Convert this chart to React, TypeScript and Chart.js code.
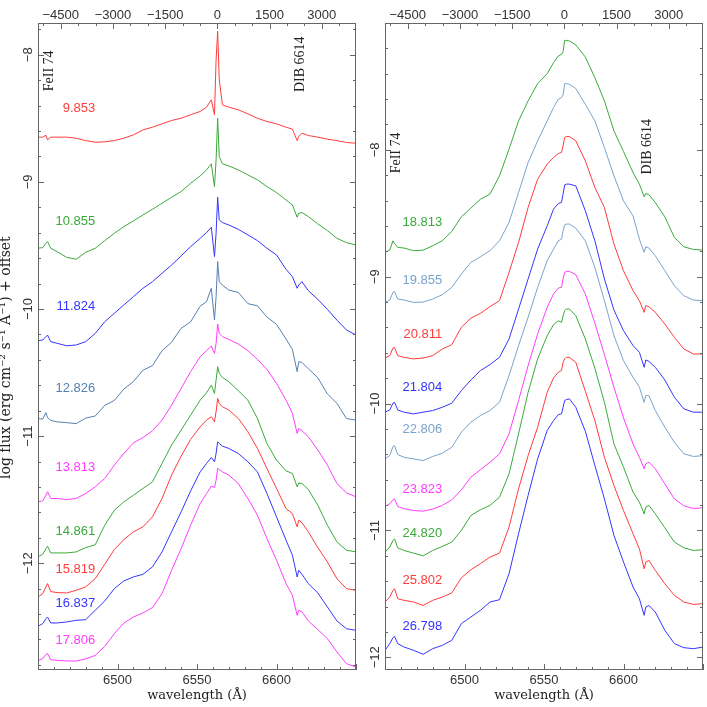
import React, { useEffect, useRef } from 'react';
import { Chart, registerables } from 'chart.js';

Chart.register(...registerables);

// ---------- data ----------
const WAVE = [6450, 6453, 6455, 6456, 6458, 6462, 6468, 6474, 6480, 6486, 6492, 6498, 6504, 6510, 6516, 6522, 6528, 6534, 6540, 6546, 6552, 6556, 6559, 6561, 6562, 6563, 6564, 6566, 6570, 6576, 6582, 6588, 6594, 6600, 6606, 6610, 6613, 6614, 6616, 6620, 6626, 6632, 6638, 6644, 6650];

// left panel
const F_9853 = [-8.648, -8.648, -8.633, -8.669, -8.648, -8.648, -8.648, -8.656, -8.675, -8.688, -8.685, -8.675, -8.656, -8.630, -8.591, -8.570, -8.543, -8.517, -8.499, -8.472, -8.446, -8.412, -8.354, -8.472, -8.039, -7.816, -8.197, -8.394, -8.412, -8.433, -8.465, -8.499, -8.525, -8.543, -8.570, -8.585, -8.675, -8.643, -8.617, -8.635, -8.648, -8.664, -8.675, -8.690, -8.696];
const F_10855 = [-9.522, -9.517, -9.483, -9.470, -9.522, -9.549, -9.593, -9.609, -9.554, -9.522, -9.462, -9.404, -9.352, -9.307, -9.260, -9.215, -9.168, -9.121, -9.076, -9.011, -8.953, -8.906, -8.858, -9.037, -8.827, -8.499, -8.801, -8.858, -8.874, -8.906, -8.945, -8.984, -9.037, -9.084, -9.142, -9.181, -9.278, -9.247, -9.241, -9.273, -9.331, -9.383, -9.444, -9.478, -9.496];
const F_11824 = [-10.249, -10.244, -10.218, -10.205, -10.257, -10.270, -10.289, -10.283, -10.257, -10.192, -10.100, -10.034, -9.968, -9.903, -9.837, -9.785, -9.719, -9.654, -9.583, -9.509, -9.444, -9.399, -9.357, -9.588, -9.404, -9.121, -9.299, -9.320, -9.339, -9.373, -9.417, -9.462, -9.522, -9.575, -9.688, -9.745, -9.837, -9.811, -9.785, -9.856, -9.924, -10.003, -10.087, -10.165, -10.205];
const F_12826 = [-10.862, -10.866, -10.815, -10.855, -10.876, -10.888, -10.894, -10.902, -10.858, -10.842, -10.758, -10.719, -10.630, -10.571, -10.482, -10.445, -10.328, -10.262, -10.152, -10.101, -9.978, -9.942, -9.837, -10.087, -9.903, -9.627, -9.785, -9.812, -9.851, -9.870, -9.958, -9.975, -10.063, -10.121, -10.236, -10.318, -10.493, -10.415, -10.420, -10.470, -10.541, -10.668, -10.742, -10.862, -10.874];
const F_13813 = [-11.517, -11.509, -11.465, -11.438, -11.491, -11.491, -11.499, -11.491, -11.451, -11.399, -11.333, -11.228, -11.137, -11.053, -11.011, -10.958, -10.874, -10.756, -10.625, -10.493, -10.375, -10.328, -10.291, -10.349, -10.270, -10.118, -10.192, -10.218, -10.239, -10.276, -10.328, -10.396, -10.475, -10.585, -10.717, -10.822, -10.979, -10.940, -10.958, -11.005, -11.110, -11.228, -11.373, -11.446, -11.478];
const F_14861 = [-11.950, -11.929, -11.885, -11.866, -11.919, -11.919, -11.919, -11.911, -11.877, -11.855, -11.701, -11.583, -11.517, -11.465, -11.412, -11.360, -11.215, -11.071, -10.953, -10.835, -10.717, -10.659, -10.599, -10.664, -10.559, -10.454, -10.507, -10.538, -10.572, -10.643, -10.717, -10.861, -11.058, -11.189, -11.273, -11.294, -11.399, -11.368, -11.373, -11.420, -11.543, -11.701, -11.832, -11.898, -11.911];
const F_15819 = [-12.265, -12.239, -12.186, -12.160, -12.223, -12.231, -12.234, -12.213, -12.186, -12.121, -12.008, -11.892, -11.814, -11.753, -11.714, -11.635, -11.491, -11.307, -11.158, -11.026, -10.927, -10.874, -10.848, -10.887, -10.808, -10.703, -10.743, -10.769, -10.795, -10.861, -10.966, -11.097, -11.255, -11.412, -11.570, -11.609, -11.714, -11.661, -11.682, -11.753, -11.877, -11.990, -12.121, -12.200, -12.213];
const F_16837 = [-12.496, -12.475, -12.436, -12.423, -12.470, -12.470, -12.462, -12.449, -12.444, -12.370, -12.297, -12.200, -12.139, -12.108, -12.087, -12.029, -11.911, -11.753, -11.596, -11.431, -11.281, -11.215, -11.168, -11.202, -11.137, -11.045, -11.058, -11.079, -11.097, -11.137, -11.202, -11.281, -11.452, -11.635, -11.819, -11.937, -12.108, -12.055, -12.087, -12.160, -12.234, -12.344, -12.454, -12.515, -12.528];
const F_17806 = [-12.764, -12.751, -12.717, -12.711, -12.759, -12.764, -12.769, -12.769, -12.753, -12.725, -12.654, -12.554, -12.470, -12.423, -12.391, -12.349, -12.239, -12.055, -11.885, -11.701, -11.530, -11.452, -11.394, -11.404, -11.347, -11.255, -11.262, -11.281, -11.307, -11.373, -11.491, -11.622, -11.806, -11.976, -12.160, -12.252, -12.410, -12.370, -12.383, -12.454, -12.522, -12.593, -12.698, -12.790, -12.816];

// right panel
const F_18813 = [-8.808, -8.790, -8.717, -8.738, -8.769, -8.774, -8.795, -8.790, -8.756, -8.717, -8.643, -8.528, -8.459, -8.389, -8.349, -8.205, -7.995, -7.772, -7.614, -7.478, -7.399, -7.312, -7.260, -7.247, -7.226, -7.137, -7.137, -7.142, -7.173, -7.268, -7.431, -7.614, -7.850, -8.013, -8.179, -8.270, -8.370, -8.344, -8.354, -8.415, -8.528, -8.690, -8.764, -8.785, -8.790];
const F_19855 = [-9.202, -9.184, -9.123, -9.116, -9.176, -9.184, -9.202, -9.200, -9.176, -9.142, -9.084, -8.979, -8.887, -8.843, -8.795, -8.717, -8.572, -8.336, -8.100, -7.929, -7.772, -7.667, -7.601, -7.588, -7.567, -7.478, -7.478, -7.483, -7.517, -7.641, -7.772, -7.982, -8.205, -8.402, -8.520, -8.704, -8.808, -8.764, -8.774, -8.835, -8.953, -9.071, -9.150, -9.184, -9.189];
const F_20811 = [-9.641, -9.622, -9.562, -9.557, -9.622, -9.635, -9.648, -9.641, -9.622, -9.570, -9.536, -9.399, -9.326, -9.289, -9.236, -9.189, -8.966, -8.730, -8.454, -8.231, -8.113, -8.060, -8.029, -8.021, -7.969, -7.903, -7.895, -7.895, -7.929, -8.087, -8.297, -8.454, -8.743, -8.953, -9.110, -9.189, -9.281, -9.228, -9.236, -9.281, -9.373, -9.478, -9.570, -9.609, -9.609];
const F_21804 = [-10.068, -10.050, -9.997, -9.990, -10.050, -10.068, -10.081, -10.068, -10.055, -10.029, -9.997, -9.898, -9.814, -9.740, -9.693, -9.635, -9.491, -9.255, -9.018, -8.782, -8.599, -8.467, -8.423, -8.415, -8.349, -8.276, -8.270, -8.270, -8.284, -8.480, -8.717, -9.018, -9.263, -9.425, -9.543, -9.596, -9.714, -9.656, -9.667, -9.714, -9.814, -9.950, -10.042, -10.068, -10.068];
const F_22806 = [-10.436, -10.410, -10.339, -10.331, -10.402, -10.423, -10.436, -10.449, -10.417, -10.391, -10.344, -10.226, -10.147, -10.095, -10.055, -9.990, -9.780, -9.543, -9.320, -9.084, -8.874, -8.782, -8.717, -8.704, -8.638, -8.591, -8.585, -8.585, -8.617, -8.717, -8.927, -9.189, -9.465, -9.662, -9.793, -9.871, -9.990, -9.937, -9.937, -10.055, -10.186, -10.305, -10.396, -10.417, -10.410];
const F_23823 = [-10.811, -10.790, -10.759, -10.751, -10.811, -10.829, -10.843, -10.848, -10.832, -10.803, -10.759, -10.680, -10.580, -10.522, -10.462, -10.396, -10.239, -9.976, -9.701, -9.451, -9.241, -9.136, -9.089, -9.084, -9.018, -8.966, -8.958, -8.958, -8.984, -9.136, -9.367, -9.614, -9.871, -10.113, -10.318, -10.423, -10.514, -10.475, -10.462, -10.514, -10.633, -10.751, -10.806, -10.827, -10.821];
const F_24820 = [-11.171, -11.131, -11.079, -11.066, -11.137, -11.158, -11.179, -11.200, -11.158, -11.126, -11.092, -11.000, -10.882, -10.837, -10.803, -10.738, -10.554, -10.239, -9.911, -9.648, -9.465, -9.378, -9.347, -9.360, -9.307, -9.268, -9.255, -9.255, -9.307, -9.491, -9.722, -9.990, -10.318, -10.501, -10.698, -10.777, -10.869, -10.816, -10.803, -10.869, -10.979, -11.092, -11.137, -11.158, -11.152];
const F_25802 = [-11.564, -11.525, -11.472, -11.459, -11.538, -11.551, -11.564, -11.591, -11.551, -11.525, -11.493, -11.373, -11.310, -11.262, -11.210, -11.179, -10.974, -10.672, -10.410, -10.186, -9.911, -9.798, -9.753, -9.740, -9.675, -9.648, -9.635, -9.635, -9.675, -9.903, -10.134, -10.423, -10.646, -10.843, -11.026, -11.144, -11.302, -11.249, -11.236, -11.315, -11.420, -11.512, -11.564, -11.583, -11.577];
const F_26798 = [-11.945, -11.892, -11.845, -11.835, -11.892, -11.919, -11.945, -11.976, -11.932, -11.906, -11.866, -11.735, -11.682, -11.630, -11.564, -11.546, -11.341, -11.026, -10.724, -10.436, -10.213, -10.134, -10.087, -10.081, -10.029, -9.976, -9.969, -9.963, -10.029, -10.218, -10.488, -10.751, -11.039, -11.249, -11.446, -11.538, -11.669, -11.604, -11.591, -11.643, -11.787, -11.892, -11.924, -11.932, -11.919];

const LEFT_EPOCHS = ['9.853', '10.855', '11.824', '12.826', '13.813', '14.861', '15.819', '16.837', '17.806'];
const LEFT_SERIES = [F_9853, F_10855, F_11824, F_12826, F_13813, F_14861, F_15819, F_16837, F_17806];
const LEFT_LABEL_Y = [-8.420, -9.312, -9.982, -10.625, -11.247, -11.748, -12.047, -12.318, -12.611];

const RIGHT_EPOCHS = ['18.813', '19.855', '20.811', '21.804', '22.806', '23.823', '24.820', '25.802', '26.798'];
const RIGHT_SERIES = [F_18813, F_19855, F_20811, F_21804, F_22806, F_23823, F_24820, F_25802, F_26798];
const RIGHT_LABEL_Y = [-8.572, -9.026, -9.451, -9.871, -10.207, -10.680, -11.026, -11.394, -11.756];

const LABEL_WAVE = 6486; // right edge of epoch labels
const LINE_NOTES = ['FeII 74', 'DIB 6614'];
const NOTE_WAVE = [6457, 6614.8];
const LEFT_NOTE_Y = [-8.126, -8.075];
const RIGHT_NOTE_Y = [-8.024, -7.976];

// tick labels
const WAVE_TICKS = [6500, 6550, 6600];
const VEL_TICKS = [-4500, -3000, -1500, 0, 1500, 3000];
const FLUX_TICKS = [-12, -11, -10, -9, -8];

const WMIN = 6450;
const WMAX = 6650;
const HALPHA = 6562.8;
const C_KMS = 299792.458;

// ---------- styles ----------
const RED = '#ff3b3b';
const GREEN = '#3aaa3a';
const BLUE = '#3535ff';
const STEEL_DARK = '#5580b0';
const STEEL = '#7aa3cc';
const MAGENTA = '#ff3cff';
const LEFT_COLORS = [RED, GREEN, BLUE, STEEL_DARK, MAGENTA, GREEN, RED, BLUE, MAGENTA];
const RIGHT_COLORS = [GREEN, STEEL, RED, BLUE, STEEL, MAGENTA, GREEN, RED, BLUE];

const NUM_FONT = '"Liberation Sans", Arial, sans-serif';
const SERIF_FONT = '"DejaVu Serif", serif';
const NOTE_FONT = '"Liberation Serif", "Times New Roman", serif';
const TEXT_COLOR = '#333';
const FRAME_COLOR = '#666';

const toVel = (w: number) => C_KMS * (w / HALPHA - 1);
const fmt = (v: number) => (v < 0 ? '\u2212' + Math.abs(v) : String(v));
const setTicks = (arr: number[]) => (s: any) => {
  s.ticks = arr.map((v) => ({ value: v }));
};

function decorPlugin(epochs: string[], labelY: number[], colors: string[], noteY: number[]) {
  return {
    id: 'decor',
    afterDraw(chart: any) {
      const { ctx, chartArea: a, scales } = chart;
      const xs = scales.x;
      const x2 = scales.x2;
      const ys = scales.y;
      ctx.save();
      ctx.strokeStyle = FRAME_COLOR;
      ctx.lineWidth = 1;
      ctx.strokeRect(a.left + 0.5, a.top + 0.5, a.right - a.left - 1, a.bottom - a.top - 1);
      ctx.beginPath();
      for (let w = WMIN; w <= WMAX; w += 10) {
        const px = Math.round(xs.getPixelForValue(w)) + 0.5;
        const len = w % 50 === 0 ? 6 : 3;
        ctx.moveTo(px, a.bottom);
        ctx.lineTo(px, a.bottom - len);
      }
      for (let v = -5000; v <= 3500; v += 500) {
        const px = Math.round(x2.getPixelForValue(v)) + 0.5;
        if (px < a.left || px > a.right) continue;
        const len = v % 1500 === 0 ? 6 : 3;
        ctx.moveTo(px, a.top);
        ctx.lineTo(px, a.top + len);
      }
      for (let k = Math.ceil(ys.min * 5); k <= Math.floor(ys.max * 5); k++) {
        const py = Math.round(ys.getPixelForValue(k / 5)) + 0.5;
        const len = k % 5 === 0 ? 6 : 3;
        ctx.moveTo(a.left, py);
        ctx.lineTo(a.left + len, py);
        ctx.moveTo(a.right, py);
        ctx.lineTo(a.right - len, py);
      }
      ctx.stroke();

      ctx.font = `13px ${NUM_FONT}`;
      ctx.textAlign = 'right';
      ctx.textBaseline = 'middle';
      epochs.forEach((t, i) => {
        ctx.fillStyle = colors[i];
        ctx.fillText(t, xs.getPixelForValue(LABEL_WAVE), ys.getPixelForValue(labelY[i]));
      });

      ctx.font = `14px ${NOTE_FONT}`;
      ctx.fillStyle = '#222';
      ctx.textAlign = 'center';
      LINE_NOTES.forEach((t, i) => {
        ctx.save();
        ctx.translate(xs.getPixelForValue(NOTE_WAVE[i]), ys.getPixelForValue(noteY[i]));
        ctx.rotate(-Math.PI / 2);
        ctx.fillText(t, 0, 0);
        ctx.restore();
      });
      ctx.restore();
    },
  };
}

function buildConfig(opts: {
  series: number[][];
  colors: string[];
  epochs: string[];
  labelY: number[];
  noteY: number[];
  yMin: number;
  yMax: number;
  yWidth: number;
  padRight: number;
  yTitle: boolean;
}) {
  const tickFont = { family: NUM_FONT, size: 13 };
  const noGrid = { display: false, drawTicks: false, tickLength: 0 };
  return {
    type: 'line' as const,
    data: {
      datasets: opts.series.map((s, i) => ({
        label: opts.epochs[i],
        data: WAVE.map((w, j) => ({ x: w, y: s[j] })),
        borderColor: opts.colors[i],
        borderWidth: 1,
        pointRadius: 0,
        fill: false,
        tension: 0,
        xAxisID: 'x',
        yAxisID: 'y',
      })),
    },
    options: {
      responsive: false,
      maintainAspectRatio: false,
      animation: false as const,
      events: [],
      layout: { padding: { left: 0, top: 0, bottom: 0, right: opts.padRight } },
      plugins: { legend: { display: false }, tooltip: { enabled: false } },
      scales: {
        x: {
          type: 'linear' as const,
          display: true,
          position: 'bottom' as const,
          min: WMIN,
          max: WMAX,
          grid: noGrid,
          border: { display: false },
          afterBuildTicks: setTicks(WAVE_TICKS),
          ticks: {
            autoSkip: false,
            maxRotation: 0,
            minRotation: 0,
            padding: 3,
            color: TEXT_COLOR,
            font: tickFont,
            callback: (v: any) => String(v),
          },
          title: {
            display: true,
            text: 'wavelength (\u00c5)',
            color: '#222',
            font: { family: SERIF_FONT, size: 13 },
            padding: { top: 0, bottom: 4 },
          },
          afterFit: (s: any) => {
            s.height = 37;
            s.paddingLeft = 0;
            s.paddingRight = 0;
          },
        },
        x2: {
          type: 'linear' as const,
          display: true,
          position: 'top' as const,
          min: toVel(WMIN),
          max: toVel(WMAX),
          grid: noGrid,
          border: { display: false },
          afterBuildTicks: setTicks(VEL_TICKS),
          ticks: {
            autoSkip: false,
            maxRotation: 0,
            minRotation: 0,
            padding: 0,
            color: TEXT_COLOR,
            font: tickFont,
            callback: (v: any) => fmt(v),
          },
          afterFit: (s: any) => {
            s.height = 23;
            s.paddingLeft = 0;
            s.paddingRight = 0;
          },
        },
        y: {
          type: 'linear' as const,
          display: true,
          position: 'left' as const,
          min: opts.yMin,
          max: opts.yMax,
          grid: noGrid,
          border: { display: false },
          afterBuildTicks: setTicks(FLUX_TICKS),
          ticks: {
            autoSkip: false,
            minRotation: 90,
            maxRotation: 90,
            crossAlign: 'center' as const,
            padding: -1,
            color: TEXT_COLOR,
            font: tickFont,
            callback: (v: any) => fmt(v),
          },
          title: {
            display: opts.yTitle,
            text: 'log flux (erg cm\u207b\u00b2 s\u207b\u00b9 \u00c5\u207b\u00b9) + offset\u00a0\u00a0\u00a0\u00a0\u00a0',
            color: '#222',
            font: { family: SERIF_FONT, size: 14 },
            padding: { top: -2, bottom: 0 },
          },
          afterFit: (s: any) => {
            s.width = opts.yWidth;
            s.paddingTop = 0;
            s.paddingBottom = 0;
          },
        },
      },
    },
    plugins: [decorPlugin(opts.epochs, opts.labelY, opts.colors, opts.noteY)],
  };
}

function Panel(props: { left: number; width: number; config: any }) {
  const ref = useRef<HTMLCanvasElement>(null);
  useEffect(() => {
    const chart = new Chart(ref.current as HTMLCanvasElement, props.config);
    return () => chart.destroy();
  }, []);
  return (
    <canvas
      ref={ref}
      width={props.width}
      height={707}
      style={{ position: 'absolute', left: props.left, top: 0, width: props.width, height: 707 }}
    />
  );
}

export default function App() {
  const leftConfig = buildConfig({
    series: LEFT_SERIES,
    colors: LEFT_COLORS,
    epochs: LEFT_EPOCHS,
    labelY: LEFT_LABEL_Y,
    noteY: LEFT_NOTE_Y,
    yMin: -12.84,
    yMax: -7.75,
    yWidth: 38,
    padRight: 6,
    yTitle: true,
  });
  const rightConfig = buildConfig({
    series: RIGHT_SERIES,
    colors: RIGHT_COLORS,
    epochs: RIGHT_EPOCHS,
    labelY: RIGHT_LABEL_Y,
    noteY: RIGHT_NOTE_Y,
    yMin: -12.1,
    yMax: -7.0,
    yWidth: 23,
    padRight: 4,
    yTitle: false,
  });
  return (
    <div style={{ position: 'absolute', left: 0, top: 0, width: 707, height: 707, background: '#fff', overflow: 'hidden' }}>
      <Panel left={0} width={362} config={leftConfig} />
      <Panel left={362} width={345} config={rightConfig} />
    </div>
  );
}
